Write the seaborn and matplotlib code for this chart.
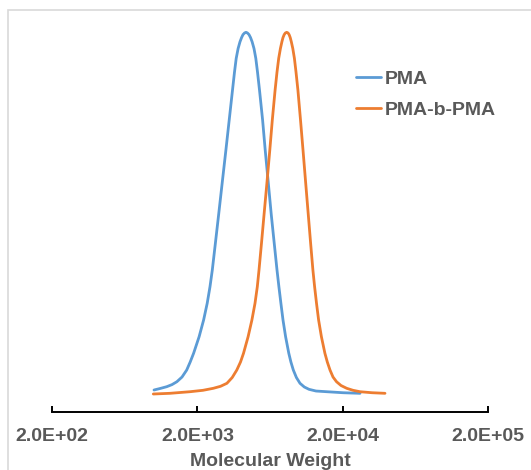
import numpy as np
import pandas as pd
import matplotlib
matplotlib.use("Agg")
import matplotlib.pyplot as plt
from matplotlib.patches import Rectangle
import seaborn as sns

# ---- data (signal in % of peak height) ----
series_names = ["PMA", "PMA-b-PMA"]

pma_mw = [1004, 1104, 1228, 1336, 1444, 1566, 1687, 1783, 1882, 2054,
          2206, 2335, 2441, 2532, 2660, 2798, 2967, 3142, 3311, 3489,
          3601, 3700, 3813, 3930, 4031, 4121, 4227, 4322,
          4419, 4533, 4642, 4761, 4907, 5049, 5187, 5354, 5624, 5861,
          6147, 6457, 6761, 7068, 7284, 7519, 7774, 8101, 8523, 8812,
          9156, 9616, 10180, 10900, 11743, 13123, 15550, 20140, 26380]
pma_signal = [1.38, 1.79, 2.29, 2.87, 3.67, 4.96, 6.89, 9.10, 11.50, 16.07,
              20.68, 25.28, 29.86, 34.46, 41.91, 49.63, 58.73, 67.55, 75.82, 84.09,
              89.05, 92.83, 95.53, 97.41, 98.57, 99.37, 99.83, 100.0,
              99.83, 99.37, 98.57, 97.41, 95.53, 92.83, 89.05, 84.09, 75.82, 67.55,
              58.73, 49.63, 41.91, 34.46, 29.86, 25.28, 20.68, 16.07, 11.50, 9.10,
              6.89, 4.82, 3.23, 2.21, 1.57, 1.10, 0.91, 0.63, 0.47]

pmab_mw = [993, 1294, 1778, 2185, 2573, 2884, 3192, 3472, 3735, 3961,
           4154, 4468, 4746, 4985, 5171, 5312, 5527, 5751, 6031, 6305,
           6560, 6858, 7068, 7261, 7460, 7640, 7774, 7923, 8076, 8244,
           8416, 8564, 8715, 8868, 9082, 9315, 9555, 9847, 10262, 10677,
           11127, 11614, 12045, 12493, 12835, 13228, 13676, 14297, 15114, 15700,
           16388, 17186, 18168, 19511, 21358, 23604, 26376, 31911, 39215]
pmab_signal = [0.28, 0.47, 0.91, 1.30, 1.85, 2.40, 3.23, 4.82, 6.89, 9.10,
               11.50, 16.07, 20.68, 25.28, 29.86, 34.46, 41.91, 49.63, 58.73, 67.55,
               75.82, 84.09, 89.05, 92.83, 95.53, 97.41, 98.57, 99.37, 99.83, 100.0,
               99.83, 99.37, 98.57, 97.41, 95.53, 92.83, 89.05, 84.09, 75.82, 67.55,
               58.73, 49.63, 41.91, 34.46, 29.86, 25.28, 20.68, 16.07, 11.50, 9.10,
               6.89, 4.96, 3.67, 2.62, 1.85, 1.30, 0.91, 0.63, 0.47]

x_ticks = [200, 2000, 20000, 200000]
x_tick_labels = ["2.0E+02", "2.0E+03", "2.0E+04", "2.0E+05"]
x_title = "Molecular Weight"

df = pd.concat([
    pd.DataFrame({"MW": pma_mw, "signal": pma_signal, "series": series_names[0]}),
    pd.DataFrame({"MW": pmab_mw, "signal": pmab_signal, "series": series_names[1]}),
], ignore_index=True)

# ---- style ----
sns.set_style("white")
plt.rcParams["font.family"] = ["Liberation Sans", "DejaVu Sans"]

W, H = 531, 470
fig = plt.figure(figsize=(W / 100, H / 100), dpi=100)
ax_left, ax_right = 52.3, 487.7
ax_bottom_px, ax_top_px = 411.7, 20
ax = fig.add_axes([ax_left / W, (H - ax_bottom_px) / H,
                   (ax_right - ax_left) / W, (ax_bottom_px - ax_top_px) / H])

palette = {"PMA": "#5B9BD5", "PMA-b-PMA": "#ED7D31"}
sns.lineplot(data=df, x="MW", y="signal", hue="series", palette=palette,
             estimator=None, sort=False, linewidth=2.0, ax=ax)
for ln in ax.get_lines():
    ln.set_solid_joinstyle("round")
    ln.set_solid_capstyle("round")

ax.set_xscale("log")
ax.set_xlim(200, 200000)
ax.set_ylim(-4.60, 103.4)
ax.set_xticks(x_ticks)
ax.set_xticklabels(x_tick_labels)
ax.minorticks_off()
ax.set_xlabel("")
ax.set_ylabel("")
ax.set_yticks([])
for s in ["left", "top", "right"]:
    ax.spines[s].set_visible(False)
ax.spines["bottom"].set_color("black")
ax.spines["bottom"].set_linewidth(1.4)
ax.tick_params(axis="x", bottom=True, direction="in", length=4.5, width=1.4,
               color="black", pad=12, labelsize=14, labelcolor="#595959")
for lab in ax.get_xticklabels():
    lab.set_fontweight("bold")
ax.patch.set_alpha(0)

fig.text(270 / W, 3.5 / H, x_title, ha="center", va="baseline",
         fontsize=14, fontweight="bold", color="#595959")

sns.move_legend(ax, loc="upper left", bbox_to_anchor=(356 / W, 1 - 70.5 / H),
                bbox_transform=fig.transFigure, title=None, frameon=False,
                prop={"weight": "bold", "size": 14}, labelcolor="#595959",
                handlelength=1.26, handletextpad=0.2, labelspacing=0.66,
                borderpad=0, borderaxespad=0)

# chart-area frame (light grey)
fig.add_artist(Rectangle((8 / W, -0.1), 1.5, (H - 10) / H + 0.1,
                         transform=fig.transFigure, fill=False,
                         edgecolor="#D9D9D9", linewidth=1.2))

fig.savefig("out.png", dpi=100)
